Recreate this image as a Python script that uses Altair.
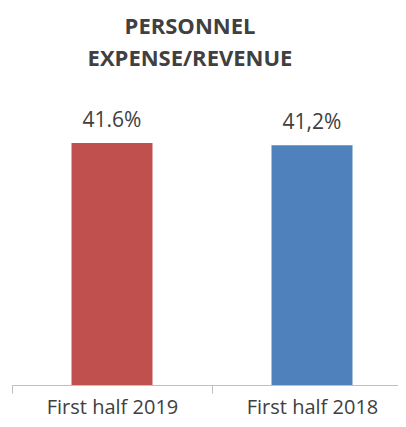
import altair as alt
import pandas as pd

categories = ["First half 2019", "First half 2018"]
values = [41.6, 41.2]
labels = ["41.6%", "41,2%"]
colors = ["#C0504D", "#4F81BD"]
title_lines = ["PERSONNEL", "EXPENSE/REVENUE"]

df = pd.DataFrame({"cat": categories, "val": values, "lab": labels, "col": colors})

x = alt.X(
    "cat:N",
    sort=categories,
    scale=alt.Scale(paddingInner=0.595, paddingOuter=0.2625, align=0.5667),
    axis=alt.Axis(
        title=None,
        labelAngle=0,
        labelFont="Open Sans",
        labelFontSize=20,
        labelColor="#404040",
        labelBaseline="alphabetic",
        labelPadding=20,
        bandPosition=0,
        tickOffset=-59.5,
        labelOffset=59.5,
        tickSize=8,
        tickColor="#BFBFBF",
        domainColor="#BFBFBF",
        tickWidth=1,
        domainWidth=1,
    ),
)
y = alt.Y("val:Q", scale=alt.Scale(domain=[0, 50]), axis=None)

bars = alt.Chart(df).mark_bar().encode(
    x=x, y=y, color=alt.Color("col:N", scale=None)
)
text = alt.Chart(df).mark_text(
    font="Open Sans", fontSize=21, color="#404040", baseline="alphabetic", dy=-16
).encode(x=x, y=y, text="lab:N")

chart = (
    alt.layer(bars, text)
    .properties(
        width=386,
        height=291,
        autosize=alt.AutoSizeParams(type="none"),
        padding={"left": 4, "top": 86, "right": 0, "bottom": 34},
        title=alt.TitleParams(
            text=title_lines,
            font="Open Sans",
            fontSize=22,
            fontWeight="bold",
            color="#404040",
            lineHeight=32,
            offset=23,
            dx=-15,
        ),
    )
    .configure_view(stroke=None)
)

chart.save("out.html", embed_options={"renderer": "svg", "actions": False})
